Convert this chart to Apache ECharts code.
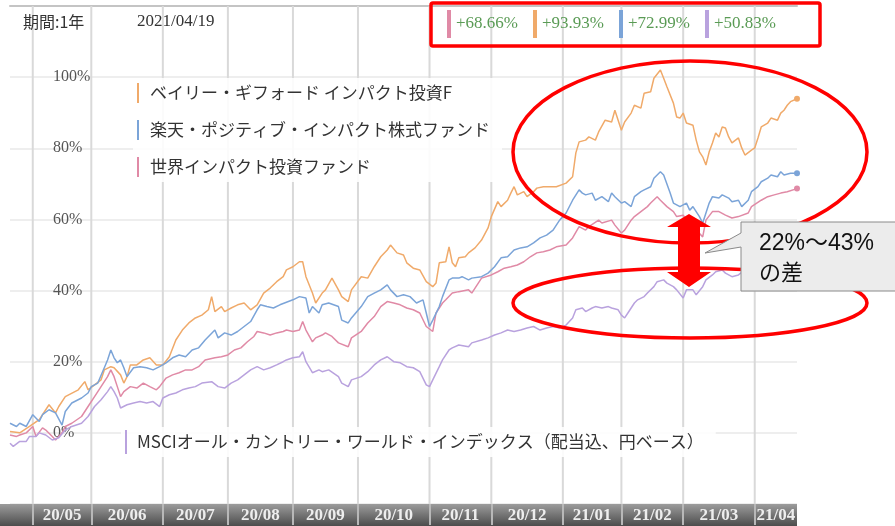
<!DOCTYPE html>
<html><head><meta charset="utf-8">
<script src="https://cdn.jsdelivr.net/npm/echarts@6/dist/echarts.min.js"></script>
<style>html,body{margin:0;padding:0;background:#fff}#c{width:895px;height:526px}</style>
</head><body><div id="c"></div>
<script>
// ---- data (x = trading-day index from 2020/04/20, y = cumulative return %) ----
const nameBaillie = 'ベイリー・ギフォード インパクト投資F';
const nameRakuten = '楽天・ポジティブ・インパクト株式ファンド';
const nameSekai = '世界インパクト投資ファンド';
const nameMsci = 'MSCIオール・カントリー・ワールド・インデックス（配当込、円ベース）';

const totalReturns = { [nameSekai]: 68.66, [nameBaillie]: 93.93, [nameRakuten]: 72.99, [nameMsci]: 50.83 };

const monthStarts = [7, 25, 47, 67, 87, 107, 129, 148, 170, 188, 207, 229, 242];
const monthLabels = ['20/05','20/06','20/07','20/08','20/09','20/10','20/11','20/12','21/01','21/02','21/03','21/04'];
const yTicks = [0, 20, 40, 60, 80, 100];

const baillie = [[0,0.4],[3,0],[6,1.8],[9,3.7],[12,7.9],[14,5.6],[15,7.4],[17,10.2],[21,12.1],[23,14.4],[24,12.1],[26,13.5],[28,14.9],[29,17.7],[31,18.6],[32,18.3],[34,16.3],[35,14.0],[36,15.8],[37,19.1],[39,19.1],[41,20.5],[43,21.1],[45,19.1],[47,19.1],[49,21.4],[51,26.1],[53,28.9],[55,30.9],[57,32.3],[59,33.1],[61,34.6],[62,38.3],[63,34.1],[65,35.5],[66,34.1],[68,35.1],[70,36.0],[72,36.5],[74,34.6],[76,36.0],[78,39.3],[80,40.7],[82,42.5],[84,43.9],[85,45.8],[87,46.7],[89,48.1],[90,48.1],[91,43.9],[93,39.3],[94,36.5],[96,39.3],[97,40.2],[99,43.5],[101,40.2],[102,38.3],[104,36.9],[105,40.2],[108,43.9],[110,43.5],[112,46.7],[114,49.5],[116,51.4],[117,52.8],[119,50.6],[121,50.0],[122,47.8],[124,46.3],[126,45.8],[128,42.5],[130,41.1],[131,42.1],[132,47.8],[134,48.1],[135,52.3],[136,47.8],[137,46.7],[138,49.2],[140,49.5],[141,50.6],[143,52.0],[145,54.2],[147,57.6],[148,60.8],[150,65.0],[151,63.6],[153,65.4],[154,67.4],[155,69.2],[156,66.9],[158,67.8],[159,66.4],[161,67.8],[162,68.8],[164,69.2],[166,69.2],[168,69.2],[171,70.2],[173,72.0],[174,78.7],[175,81.8],[177,82.3],[178,83.2],[180,82.3],[181,84.6],[183,87.9],[185,87.4],[186,90.7],[188,85.1],[189,87.4],[191,89.9],[192,92.1],[194,91.3],[195,95.5],[197,95.9],[198,99.7],[200,102.0],[201,99.7],[202,97.3],[204,92.7],[205,88.8],[206,88.5],[207,89.9],[208,87.1],[210,86.5],[211,82.3],[212,79.0],[213,77.6],[214,75.3],[215,79.0],[216,81.5],[217,84.3],[218,83.2],[219,86.0],[220,85.7],[221,83.2],[222,81.5],[224,82.9],[225,80.1],[226,78.1],[228,79.5],[229,80.1],[230,82.9],[231,86.0],[233,87.1],[234,88.5],[236,87.9],[237,89.9],[238,90.7],[239,92.1],[240,93.1],[242,93.93]];

const rakuten = [[0,2.7],[2,1.8],[3,2.7],[5,1.8],[7,5.1],[9,3.2],[10,5.1],[12,6.5],[14,5.6],[16,2.2],[17,6.0],[19,8.4],[22,9.8],[24,11.2],[25,13.0],[27,14.0],[29,18.3],[30,20.5],[31,23.3],[32,21.1],[33,19.7],[34,20.5],[35,18.3],[36,15.8],[38,18.3],[40,18.6],[42,18.3],[44,17.7],[46,18.6],[48,19.7],[50,21.1],[52,21.9],[54,21.4],[56,23.3],[58,23.9],[60,26.1],[63,28.9],[64,26.7],[66,28.1],[68,27.5],[70,28.5],[72,29.9],[74,31.3],[76,34.6],[77,36.0],[79,35.5],[81,35.1],[83,36.0],[87,37.4],[89,38.3],[91,37.9],[92,33.7],[93,35.5],[95,33.7],[96,36.0],[98,36.5],[101,35.5],[102,31.7],[104,30.9],[105,32.3],[108,35.5],[110,38.3],[112,39.3],[114,40.2],[116,41.6],[117,40.2],[119,38.3],[121,38.8],[123,38.3],[125,36.5],[127,37.4],[128,33.7],[129,29.9],[130,31.7],[132,35.5],[133,38.3],[135,43.0],[136,43.5],[138,43.5],[139,43.9],[141,43.0],[142,43.5],[145,43.9],[147,44.9],[149,46.7],[151,49.2],[153,49.5],[155,51.4],[157,52.0],[159,52.3],[161,53.4],[163,54.8],[165,55.6],[167,57.0],[169,59.8],[171,61.8],[173,65.4],[175,68.3],[176,67.4],[177,66.9],[179,67.4],[180,65.4],[182,66.4],[184,65.0],[185,67.4],[186,66.4],[188,64.6],[189,65.0],[191,63.6],[192,66.4],[194,67.8],[195,68.3],[197,69.2],[198,71.6],[200,73.4],[201,72.5],[203,67.4],[204,64.6],[206,63.6],[208,64.6],[209,62.6],[210,63.6],[212,60.8],[213,59.0],[214,61.8],[215,64.6],[216,66.4],[218,66.0],[219,66.9],[221,66.0],[222,65.0],[224,65.4],[225,63.6],[227,65.4],[228,67.8],[230,69.2],[231,70.6],[233,71.6],[234,72.5],[236,72.0],[237,73.4],[238,72.5],[240,73.0],[242,72.99]];

const sekai = [[0,-0.6],[2,-1.0],[3,-0.6],[5,0],[7,1.8],[8,-1.0],[10,1.4],[11,0.8],[13,-1.0],[14,-2.0],[16,0],[17,1.8],[19,2.7],[22,4.6],[24,7.4],[26,10.2],[28,13.0],[30,15.8],[31,17.7],[32,15.8],[33,13.0],[34,10.2],[35,11.6],[37,13.0],[39,12.6],[41,14.0],[43,13.0],[45,12.1],[46,13.0],[48,15.4],[50,16.3],[52,16.9],[54,17.7],[56,17.7],[58,18.6],[60,20.5],[63,21.1],[65,21.4],[67,21.9],[69,23.3],[71,23.9],[73,25.6],[75,27.1],[76,28.5],[78,28.1],[80,27.5],[82,28.1],[84,28.5],[85,28.9],[87,28.5],[89,28.9],[90,31.3],[91,28.9],[93,25.6],[94,26.7],[96,27.5],[97,28.1],[99,27.1],[101,25.3],[104,24.2],[105,26.7],[108,28.5],[110,30.9],[112,32.7],[114,35.5],[116,36.9],[118,36.5],[120,36.0],[122,35.1],[124,34.6],[126,33.7],[128,29.9],[130,28.5],[131,33.7],[133,36.5],[134,37.4],[136,39.3],[138,39.7],[141,40.2],[142,39.3],[144,42.1],[145,43.5],[148,44.4],[150,45.3],[152,46.3],[154,46.7],[156,47.2],[158,48.1],[160,49.5],[162,50.6],[164,50.9],[166,51.4],[168,52.3],[171,52.8],[173,54.8],[175,58.0],[177,57.0],[178,58.0],[181,59.8],[182,59.0],[185,59.8],[186,58.4],[188,56.2],[189,57.0],[191,59.8],[192,60.8],[194,62.2],[196,63.6],[197,64.6],[199,66.4],[200,65.4],[202,63.6],[204,62.2],[205,60.8],[207,61.2],[208,59.8],[210,59.0],[211,57.0],[213,55.1],[214,59.8],[216,62.2],[218,62.2],[220,61.2],[222,60.4],[224,60.8],[227,61.8],[228,63.6],[231,65.4],[233,66.4],[235,66.9],[237,67.4],[239,67.8],[242,68.66]];

const msci = [[0,-2.9],[1,-3.8],[3,-2.4],[5,-2.4],[6,-1.0],[8,-1.0],[9,0],[11,-0.6],[13,-2.0],[15,-1.4],[17,0.8],[19,1.8],[22,2.7],[24,4.6],[26,7.4],[28,9.3],[30,11.6],[31,13.0],[32,11.6],[33,9.8],[34,7.0],[36,7.9],[38,8.4],[40,8.8],[42,8.4],[44,8.8],[46,7.4],[47,9.8],[49,10.7],[51,11.2],[53,12.1],[55,12.6],[57,13.0],[59,14.0],[62,14.4],[64,13.0],[66,12.6],[68,14.0],[70,14.9],[72,16.3],[74,17.7],[76,18.6],[78,17.7],[80,18.3],[82,19.1],[84,20.0],[85,20.5],[87,21.1],[89,21.4],[90,22.8],[91,20.0],[93,16.9],[95,17.7],[96,17.2],[98,17.7],[101,15.8],[102,14.0],[104,13.0],[105,14.9],[108,15.8],[110,17.2],[112,19.1],[114,20.5],[116,21.4],[118,20.0],[120,19.7],[122,18.6],[124,18.3],[126,17.2],[128,13.5],[129,13.0],[130,14.9],[132,18.6],[133,20.5],[135,23.3],[136,23.9],[138,24.7],[141,24.2],[142,25.3],[145,26.1],[147,26.7],[149,27.5],[151,28.1],[153,28.9],[155,28.5],[157,28.9],[159,29.5],[161,29.9],[163,28.9],[165,29.5],[167,29.9],[169,29.5],[171,30.3],[173,32.3],[174,34.6],[176,35.1],[177,34.1],[179,35.1],[180,35.5],[182,35.1],[184,35.5],[185,35.1],[187,34.6],[188,33.1],[189,32.3],[190,33.7],[192,36.5],[193,37.4],[195,38.3],[196,39.3],[198,41.1],[199,42.5],[201,43.0],[202,42.1],[204,41.1],[205,40.2],[207,37.9],[208,40.2],[210,40.2],[211,38.8],[213,41.1],[214,43.0],[216,44.4],[217,45.3],[219,45.8],[220,44.9],[222,43.9],[224,44.4],[226,45.8],[229,47.2],[232,48.0],[235,49.2],[238,50.0],[242,50.83]];

// ---- build ----
const monthMids = monthLabels.map((_, i) => (monthStarts[i] + monthStarts[i + 1]) / 2);
const tickBounds = monthStarts.slice(0, 12);
const Y_MIN = -20, Y_MAX = 120;

function withEndDot(arr) {
  return arr.map((p, i) => i === arr.length - 1 ? { value: p, symbol: 'circle', symbolSize: 6 } : p);
}
function lineSeries(name, data, color) {
  return {
    name, type: 'line', data: withEndDot(data), color,
    symbol: 'none', showSymbol: true, lineStyle: { width: 1.5, color },
    itemStyle: { color }, emphasis: { disabled: true }, z: 3
  };
}

const chart = echarts.init(document.getElementById('c'), null, { renderer: 'canvas' });
const jp = '"Noto Sans CJK JP", sans-serif';
const serif = '"Liberation Serif", serif';

chart.setOption({
  animation: false,
  backgroundColor: '#fff',
  grid: { left: 10, right: 98, top: 6, bottom: 22, containLabel: false },
  xAxis: [{
    type: 'value', min: 0, max: 242, position: 'bottom', z: 5,
    axisLine: { show: false, onZero: false },
    axisTick: { show: true, customValues: tickBounds, length: 21, lineStyle: { color: '#b8b8b8', width: 2 } },
    axisLabel: {
      customValues: monthMids, margin: 3, color: '#eeeeee', fontFamily: serif, fontWeight: 'bold', fontSize: 17,
      formatter: v => { const i = monthMids.indexOf(v); return i >= 0 ? monthLabels[i] : ''; }
    },
    splitLine: { show: false }
  }, {
    type: 'value', min: 0, max: 242, position: 'top',
    axisLine: { show: true, onZero: false, lineStyle: { color: '#c4c4c4', width: 2 } },
    axisTick: { show: false }, axisLabel: { show: false }, splitLine: { show: false }
  }],
  yAxis: {
    type: 'value', min: Y_MIN, max: Y_MAX, interval: 20,
    axisLine: { show: false }, axisTick: { show: false },
    axisLabel: {
      inside: true, margin: 43, color: '#555', fontFamily: serif, fontSize: 16,
      formatter: v => yTicks.indexOf(v) >= 0 ? v + '%' : ''
    },
    splitLine: { lineStyle: { color: '#e8e8e8', width: 1.5 } }
  },
  legend: [{
    data: [nameBaillie, nameRakuten, nameSekai], orient: 'vertical', left: 133, top: 78,
    padding: [5, 12, 5, 4], itemWidth: 2, itemHeight: 20, itemGap: 17, icon: 'rect',
    backgroundColor: 'rgba(255,255,255,0.88)', selectedMode: false,
    textStyle: { fontFamily: jp, fontSize: 17, color: '#333', padding: [0, 0, 0, 6] }
  }, {
    data: [nameMsci], orient: 'horizontal', left: 121, top: 427,
    padding: [3, 12, 3, 4], itemWidth: 2, itemHeight: 24, icon: 'rect',
    backgroundColor: 'rgba(255,255,255,0.88)', selectedMode: false,
    textStyle: { fontFamily: jp, fontSize: 17, color: '#333', padding: [0, 0, 0, 5] }
  }, {
    data: [nameSekai, nameBaillie, nameRakuten, nameMsci], orient: 'horizontal', left: 447, top: 10,
    padding: 0, itemWidth: 4, itemHeight: 28, itemGap: 15, icon: 'rect', selectedMode: false,
    formatter: n => '+' + totalReturns[n].toFixed(2) + '%',
    textStyle: { fontFamily: serif, fontSize: 17, color: '#5a9b55' }
  }],
  series: [
    {
      name: 'monthGrid', type: 'custom', silent: true, z: 2, clip: false,
      data: tickBounds.map(v => [v, 50]),
      encode: { x: 0, y: 1 },
      renderItem: function (params, api) {
        const x = api.value(0);
        const a = api.coord([x, Y_MAX]);
        const b = api.coord([x, Y_MIN]);
        return { type: 'line', shape: { x1: a[0], y1: a[1], x2: b[0], y2: b[1] },
                 style: { stroke: '#d9d9d9', lineWidth: 2, fill: null } };
      }
    },
    lineSeries(nameSekai, sekai, '#e08aa6'),
    lineSeries(nameBaillie, baillie, '#f0aa6a'),
    lineSeries(nameRakuten, rakuten, '#7ba4d8'),
    lineSeries(nameMsci, msci, '#b9a2de')
  ],
  graphic: [
    { type: 'rect', z: 1, shape: { x: 0, y: 504, width: 797, height: 22 },
      style: { fill: new echarts.graphic.LinearGradient(0, 0, 0, 1, [{ offset: 0, color: '#9c9c9c' }, { offset: 1, color: '#4c4c4c' }]) } },
    { type: 'text', z: 10, x: 23, y: 22, style: { text: '期間:1年', fontFamily: jp, fontSize: 16, fill: '#333', verticalAlign: 'middle' } },
    { type: 'text', z: 10, x: 137, y: 22, style: { text: '2021/04/19', fontFamily: serif, fontSize: 17, fill: '#333', verticalAlign: 'middle' } },
    // annotations
    { type: 'rect', z: 100, shape: { x: 431, y: 3, width: 389, height: 43, r: 2 }, style: { fill: 'none', stroke: '#ff0000', lineWidth: 3.5 } },
    { type: 'ellipse', z: 100, shape: { cx: 690, cy: 152, rx: 177, ry: 91 }, style: { fill: 'none', stroke: '#ff0000', lineWidth: 3.5 } },
    { type: 'ellipse', z: 100, shape: { cx: 690, cy: 303, rx: 177, ry: 35 }, style: { fill: 'none', stroke: '#ff0000', lineWidth: 3.5 } },
    { type: 'polygon', z: 101, shape: { points: [[689,214],[711,227],[700,227],[700,272],[711,272],[689,287],[667,272],[678,272],[678,227],[667,227]] },
      style: { fill: '#ff0000' } },
    { type: 'polygon', z: 102, shape: { points: [[741,222],[900,222],[900,291],[741,291],[741,247],[705,253],[741,233]] },
      style: { fill: '#ececec', stroke: '#8a8a8a', lineWidth: 1 } },
    { type: 'text', z: 103, x: 759, y: 244, style: { text: '22%～43%', fontFamily: '"Liberation Sans", "Noto Sans CJK JP", sans-serif', fontSize: 23, fill: '#111', verticalAlign: 'middle' } },
    { type: 'text', z: 103, x: 759, y: 272, style: { text: 'の差', fontFamily: jp, fontSize: 22, fill: '#111', verticalAlign: 'middle' } }
  ]
});
</script></body></html>
